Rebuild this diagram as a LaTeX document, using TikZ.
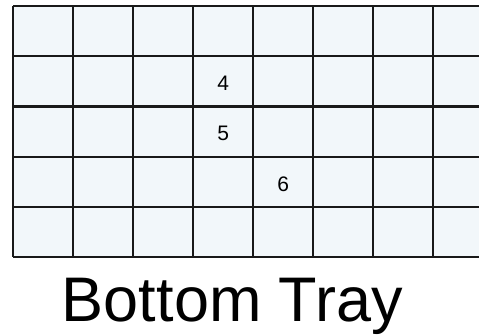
\documentclass[tikz,border=0pt]{standalone}
\usepackage{fontspec}
\setmainfont{Liberation Sans}
\definecolor{cellfill}{HTML}{F2F7FA}
\begin{document}
\begin{tikzpicture}[x=1pt,y=-1pt,
  gridline/.style={line width=2.1pt,draw=black!90},
  num/.style={anchor=base,inner sep=0pt,font=\fontsize{21}{24}\selectfont},
  title/.style={anchor=base,inner sep=0pt,font=\fontsize{63}{72}\selectfont}]
\useasboundingbox (0,0) rectangle (479,336);
\begin{scope}
\clip (0,0) rectangle (479,336);
\fill[cellfill] (13.3,6) rectangle (493.3,257.3);
\foreach \i in {0,...,8} {
  \draw[gridline] ({13.3+60*\i},6) -- ({13.3+60*\i},257.3);
}
\foreach \j in {0,...,5} {
  \draw[gridline] (13.3,{6+50.26*\j}) -- (493.3,{6+50.26*\j});
}
\end{scope}
\node[num] (n4) at (223.3,90.7) {4};
\node[num] (n5) at (223.3,141) {5};
\node[num] (n6) at (283.3,191.2) {6};
\node[title] (t) at (232.3,321.7) {Bottom Tray};
\end{tikzpicture}
\end{document}
